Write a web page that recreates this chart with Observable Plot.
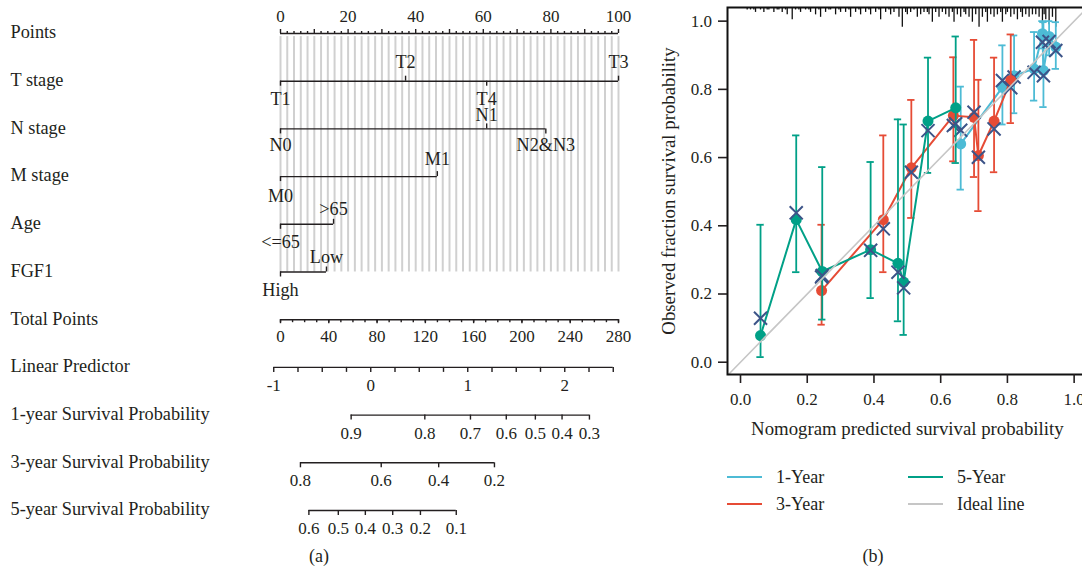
<!DOCTYPE html>
<html>
<head>
<meta charset="utf-8">
<script src="https://cdn.jsdelivr.net/npm/d3@7"></script>
<script src="https://cdn.jsdelivr.net/npm/@observablehq/plot@0.6"></script>
<style>
html,body{margin:0;padding:0;background:#fff;}
body{width:1082px;height:578px;overflow:hidden;position:relative;font-family:"Liberation Serif","Times New Roman",serif;color:#231f20;}
#panelA{position:absolute;left:0;top:0;}
#panelB{position:absolute;left:640px;top:0;width:442px;height:460px;overflow:hidden;}
#panelB svg{max-width:none !important;}
.cap{position:absolute;font-size:18px;transform:translate(-50%,-50%);white-space:nowrap;}
.sw{position:absolute;width:35px;height:2.5px;}
.lt{position:absolute;font-size:18px;transform:translateY(-50%);white-space:nowrap;}
</style>
</head>
<body>
<div id="panelA"></div>
<div id="panelB"></div>
<div id="legend"></div>
<div class="cap" style="left:319px;top:556px">(a)</div>
<div class="cap" style="left:873px;top:556px">(b)</div>
<script>
// ================= DATA: panel (a) nomogram =================
const rowLabels = ["Points","T stage","N stage","M stage","Age","FGF1","Total Points","Linear Predictor",
  "1-year Survival Probability","3-year Survival Probability","5-year Survival Probability"];

const tLevels = ["T1","T2","T3","T4"];      const tPoints = [0, 37, 100, 61];
const nLevels = ["N0","N1","N2&N3"];        const nPoints = [0, 61, 78.5];
const mLevels = ["M0","M1"];                const mPoints = [0, 46.4];
const ageLevels = ["<=65",">65"];           const agePoints = [0, 15.7];
const fgfLevels = ["High","Low"];           const fgfPoints = [0, 13.6];

const pointLabels = [0, 20, 40, 60, 80, 100];
const totalLabels = [0, 40, 80, 120, 160, 200, 240, 280];
const totalMax = 280;                 // total points at 100 points
const lpLabels = [-1, 0, 1, 2];
const lpExtent = [-1, 2.5];
const lpZeroPoints = 26.7, lpPointsPerUnit = 28.7;

const surv1Labels = [0.9, 0.8, 0.7, 0.6, 0.5, 0.4, 0.3];
const surv1Points = [20.9, 42.7, 56.2, 66.8, 75.4, 83.3, 91.4];
const surv3Labels = [0.8, 0.6, 0.4, 0.2];
const surv3Points = [5.9, 29.8, 46.8, 63.3];
const surv5Labels = [0.6, 0.5, 0.4, 0.3, 0.2, 0.1];
const surv5Points = [8.4, 17.1, 25.1, 33.2, 41.4, 52.0];

// ================= DATA: panel (b) calibration =================
const oneYearPred = [0.66, 0.785, 0.82, 0.88, 0.905, 0.908, 0.925, 0.945];
const oneYearObs  = [0.64, 0.806, 0.84, 0.86, 0.963, 0.855, 0.955, 0.924];
const oneYearLo   = [0.506, 0.697, 0.73, 0.767, 0.92, 0.748, 0.90, 0.86];
const oneYearHi   = [0.808, 0.929, 0.958, 0.968, 1.0, 0.997, 1.0, 0.997];
const oneYearCorr = [0.68, 0.826, 0.836, 0.85, 0.938, 0.84, 0.94, 0.914];

const threeYearPred = [0.243, 0.428, 0.512, 0.638, 0.70, 0.713, 0.76, 0.81];
const threeYearObs  = [0.21, 0.418, 0.57, 0.723, 0.718, 0.606, 0.707, 0.826];
const threeYearLo   = [0.11, 0.264, 0.423, 0.589, 0.543, 0.443, 0.557, 0.701];
const threeYearHi   = [0.403, 0.665, 0.769, 0.894, 0.945, 0.828, 0.893, 0.961];
const threeYearCorr = [0.25, 0.391, 0.557, 0.694, 0.733, 0.601, 0.684, 0.805];

const fiveYearPred = [0.06, 0.167, 0.245, 0.39, 0.472, 0.489, 0.562, 0.645];
const fiveYearObs  = [0.078, 0.418, 0.266, 0.33, 0.29, 0.235, 0.707, 0.746];
const fiveYearLo   = [0.015, 0.264, 0.125, 0.188, 0.12, 0.08, 0.555, 0.584];
const fiveYearHi   = [0.403, 0.665, 0.572, 0.587, 0.712, 0.697, 0.893, 0.955];
const fiveYearCorr = [0.129, 0.438, 0.254, 0.328, 0.264, 0.218, 0.679, 0.699];

const axisTicksB = [0, 0.2, 0.4, 0.6, 0.8, 1.0];

const rugPred = [0.02,0.03,0.04,0.045,0.06,0.07,0.08,0.085,0.10,0.11,0.115,0.125,0.135,0.14,0.155,0.165,0.175,0.18,0.195,0.205,0.21,0.225,0.235,0.24,0.255,
  0.265,0.27,0.285,0.295,0.30,0.315,0.325,0.33,0.345,0.355,0.36,0.375,0.385,0.39,0.405,0.415,0.42,0.435,0.445,0.45,0.46,0.475,0.485,0.495,0.50,0.51,0.52,0.53,0.54,0.55,
  0.56,0.565,0.575,0.585,0.595,0.605,0.615,0.625,0.635,0.64,0.65,0.66,0.67,0.675,0.685,0.695,0.705,0.715,0.725,0.735,0.74,0.75,0.76,0.77,0.78,0.785,
  0.795,0.80,0.81,0.82,0.83,0.84,0.845,0.855,0.865,0.875,0.885,0.895,0.905,0.91,0.915,0.925,0.935,0.945];
const rugCount = [1,1,1,2,1,2,1,1,2,1,1,2,1,3,5,1,1,2,1,1,2,3,1,4,2,
  1,1,3,1,2,2,1,4,2,1,3,2,1,3,2,1,5,2,1,3,2,4,8,2,3,2,1,4,3,2,
  2,3,6,2,4,2,3,4,2,6,3,4,2,3,4,6,3,8,4,2,6,3,4,3,2,6,
  3,2,4,3,5,2,4,3,4,3,3,4,7,3,5,7,4,8];

const legendNames = ["1-Year","3-Year","5-Year","Ideal line"];

// ================= PANEL (a) =================
const ink = "#231f20";
const rowTop = 33, rowBottom = 510, nRows = 10;
const pxPerRow = (rowBottom - rowTop) / nRows;
const lpToPoints = v => lpZeroPoints + v * lpPointsPerUnit;
const totalToPoints = v => v * 100 / totalMax;

const segs = [];
const ticks = [];
const textGroups = [];   // {data, dy, size}
const lineW = 1.4;
const numSize = 17, wordSize = 18.2;

function addTicks(list, row, lenPx, dir) {
  list.forEach(p => ticks.push({p, y1: row, y2: row + dir * lenPx / pxPerRow}));
}

// Points axis
segs.push({row: 0, x1: 0, x2: 100});
addTicks(d3.range(0, 101, 2).filter(v => v % 10 !== 0), 0, 2, -1);
addTicks(d3.range(0, 101, 10), 0, 4, -1);
textGroups.push({data: pointLabels.map(v => ({p: v, row: 0, label: String(v)})), dy: -17, size: numSize});

// factor rows
const factors = [
  {row: 1, levels: tLevels, pts: tPoints, above: -19, below: 17.5},
  {row: 2, levels: nLevels, pts: nPoints, above: -13.5, below: 16.5},
  {row: 3, levels: mLevels, pts: mPoints, above: -17, below: 19.5},
  {row: 4, levels: ageLevels, pts: agePoints, above: -15, below: 18},
  {row: 5, levels: fgfLevels, pts: fgfPoints, above: -15, below: 18.5}
];
factors.forEach(f => {
  const order = d3.range(f.levels.length).sort((a, b) => f.pts[a] - f.pts[b]);
  segs.push({row: f.row, x1: d3.min(f.pts), x2: d3.max(f.pts)});
  const up = [], down = [];
  order.forEach((i, k) => {
    const rec = {p: f.pts[i], row: f.row, label: f.levels[i]};
    if (k % 2) { up.push(rec); addTicks([f.pts[i]], f.row, 5, -1); }
    else { down.push(rec); addTicks([f.pts[i]], f.row, 5, 1); }
  });
  textGroups.push({data: up, dy: f.above, size: wordSize});
  textGroups.push({data: down, dy: f.below, size: wordSize});
});

// Total points
segs.push({row: 6, x1: 0, x2: 100});
addTicks(d3.range(0, totalMax + 1, 10).map(totalToPoints), 6, 3, 1);
addTicks(totalLabels.map(totalToPoints), 6, 4, 1);
textGroups.push({data: totalLabels.map(v => ({p: totalToPoints(v), row: 6, label: String(v)})), dy: 17, size: numSize});

// Linear predictor
segs.push({row: 7, x1: lpToPoints(lpExtent[0]), x2: lpToPoints(lpExtent[1])});
addTicks(d3.range(lpExtent[0], lpExtent[1] + 0.001, 0.25).map(lpToPoints), 7, 5, 1);
textGroups.push({data: lpLabels.map(v => ({p: lpToPoints(v), row: 7, label: String(v)})), dy: 18, size: numSize});

// Survival axes
[[surv1Labels, surv1Points, 8], [surv3Labels, surv3Points, 9], [surv5Labels, surv5Points, 10]].forEach(([labs, pts, row]) => {
  segs.push({row, x1: d3.min(pts), x2: d3.max(pts)});
  addTicks(pts, row, 5, 1);
  textGroups.push({data: labs.map((v, i) => ({p: pts[i], row, label: v.toFixed(1)})), dy: 18, size: numSize});
});

const marksA = [
  Plot.ruleX(d3.range(0, 101, 2), {x: d => d, y1: 0.065, y2: 5, stroke: "#d0d0d0", strokeWidth: 2}),
  Plot.text(rowLabels, {y: (d, i) => i, text: d => d, frameAnchor: "left", textAnchor: "start", dy: -1, fill: ink, fontSize: 18.3}),
  Plot.ruleY(segs, {y: "row", x1: "x1", x2: "x2", stroke: ink, strokeWidth: lineW}),
  Plot.ruleX(ticks, {x: "p", y1: "y1", y2: "y2", stroke: ink, strokeWidth: lineW}),
  ...textGroups.map(g => Plot.text(g.data, {x: "p", y: "row", text: "label", dy: g.dy, fill: ink, fontSize: g.size}))
];

const plotA = Plot.plot({
  width: 640, height: 578,
  marginLeft: 10, marginRight: 0, marginTop: 0, marginBottom: 0,
  x: {domain: [0, 100], range: [280, 618], axis: null},
  y: {domain: [0, nRows], range: [rowTop, rowBottom], axis: null},
  style: {fontFamily: "'Liberation Serif', 'Times New Roman', serif", fontSize: "17px", color: ink, background: "transparent", overflow: "visible"},
  marks: marksA
});
document.getElementById("panelA").appendChild(plotA);

// ================= PANEL (b) =================
const xDomain = [-0.039, 1.1];
const yDomain = [-0.036, 1.04];
const colors = {one: "#4DBBD5", three: "#E64B35", five: "#00A087", corr: "#3C5488", ideal: "#c6c6c6"};
const series = [
  {color: colors.one, pred: oneYearPred, obs: oneYearObs, lo: oneYearLo, hi: oneYearHi, corr: oneYearCorr},
  {color: colors.three, pred: threeYearPred, obs: threeYearObs, lo: threeYearLo, hi: threeYearHi, corr: threeYearCorr},
  {color: colors.five, pred: fiveYearPred, obs: fiveYearObs, lo: fiveYearLo, hi: fiveYearHi, corr: fiveYearCorr}
];
const capHalf = 0.011;
const rugUnit = 0.0072;

const marksB = [
  Plot.ruleX(rugPred.map((p, i) => ({p, n: rugCount[i]})), {x: "p", y1: yDomain[1], y2: d => yDomain[1] - d.n * rugUnit, stroke: "#111", strokeWidth: 1.3})
];
series.forEach(s => {
  const d = s.pred.map((p, i) => ({p, o: s.obs[i], lo: s.lo[i], hi: s.hi[i], c: s.corr[i]}));
  marksB.push(Plot.ruleX(d, {x: "p", y1: "lo", y2: "hi", stroke: s.color, strokeWidth: 1.8}));
  marksB.push(Plot.ruleY(d, {y: "lo", x1: r => r.p - capHalf, x2: r => r.p + capHalf, stroke: s.color, strokeWidth: 1.8}));
  marksB.push(Plot.ruleY(d, {y: "hi", x1: r => r.p - capHalf, x2: r => r.p + capHalf, stroke: s.color, strokeWidth: 1.8}));
  marksB.push(Plot.line(d, {x: "p", y: "o", stroke: s.color, strokeWidth: 2}));
  marksB.push(Plot.dot(d, {x: "p", y: "o", r: 5.5, fill: s.color}));
  marksB.push(Plot.dot(d, {x: "p", y: "c", symbol: "times", r: 6, stroke: colors.corr, strokeWidth: 2}));
});
marksB.push(Plot.line([yDomain[0], yDomain[1]], {x: d => d, y: d => d, stroke: colors.ideal, strokeWidth: 1.6}));
marksB.push(Plot.frame({stroke: "#111", strokeWidth: 2}));
marksB.push(Plot.axisY({ticks: axisTicksB, tickFormat: d3.format(".1f"), tickSize: 9, tickPadding: 6.5, strokeWidth: 1.6, fontSize: 17, label: null}));
marksB.push(Plot.axisX({ticks: axisTicksB, tickFormat: d3.format(".1f"), tickSize: 9, tickPadding: 9, strokeWidth: 1.6, fontSize: 17, label: null}));
marksB.push(Plot.text(["Observed fraction survival probability"], {frameAnchor: "left", textAnchor: "middle", dx: -59, rotate: -90, fontSize: 18.8, fill: ink}));
marksB.push(Plot.text(["Nomogram predicted survival probability"], {x: () => 0.5, frameAnchor: "bottom", textAnchor: "middle", dy: 60, fontSize: 18.8, fill: ink}));

const plotB = Plot.plot({
  width: 467, height: 450,
  marginLeft: 87, marginRight: 0, marginTop: 7, marginBottom: 76,
  x: {domain: xDomain},
  y: {domain: yDomain},
  style: {fontFamily: "'Liberation Serif', 'Times New Roman', serif", fontSize: "17px", color: ink, background: "transparent"},
  marks: marksB
});
plotB.style.maxWidth = "none";
plotB.style.width = "467px";
plotB.style.height = "450px";
document.getElementById("panelB").appendChild(plotB);

// ================= Legend =================
const legendColors = [colors.one, colors.three, colors.five, colors.ideal];
const legPos = [[727, 477], [727, 504], [908, 477], [908, 504]];
const leg = document.getElementById("legend");
legendNames.forEach((name, i) => {
  const [lx, ly] = legPos[i];
  const sw = document.createElement("div");
  sw.className = "sw";
  sw.style.left = lx + "px"; sw.style.top = (ly - 1.25) + "px"; sw.style.background = legendColors[i];
  leg.appendChild(sw);
  const t = document.createElement("div");
  t.className = "lt";
  t.style.left = (lx + 49) + "px"; t.style.top = ly + "px";
  t.textContent = name;
  leg.appendChild(t);
});
</script>
</body>
</html>
